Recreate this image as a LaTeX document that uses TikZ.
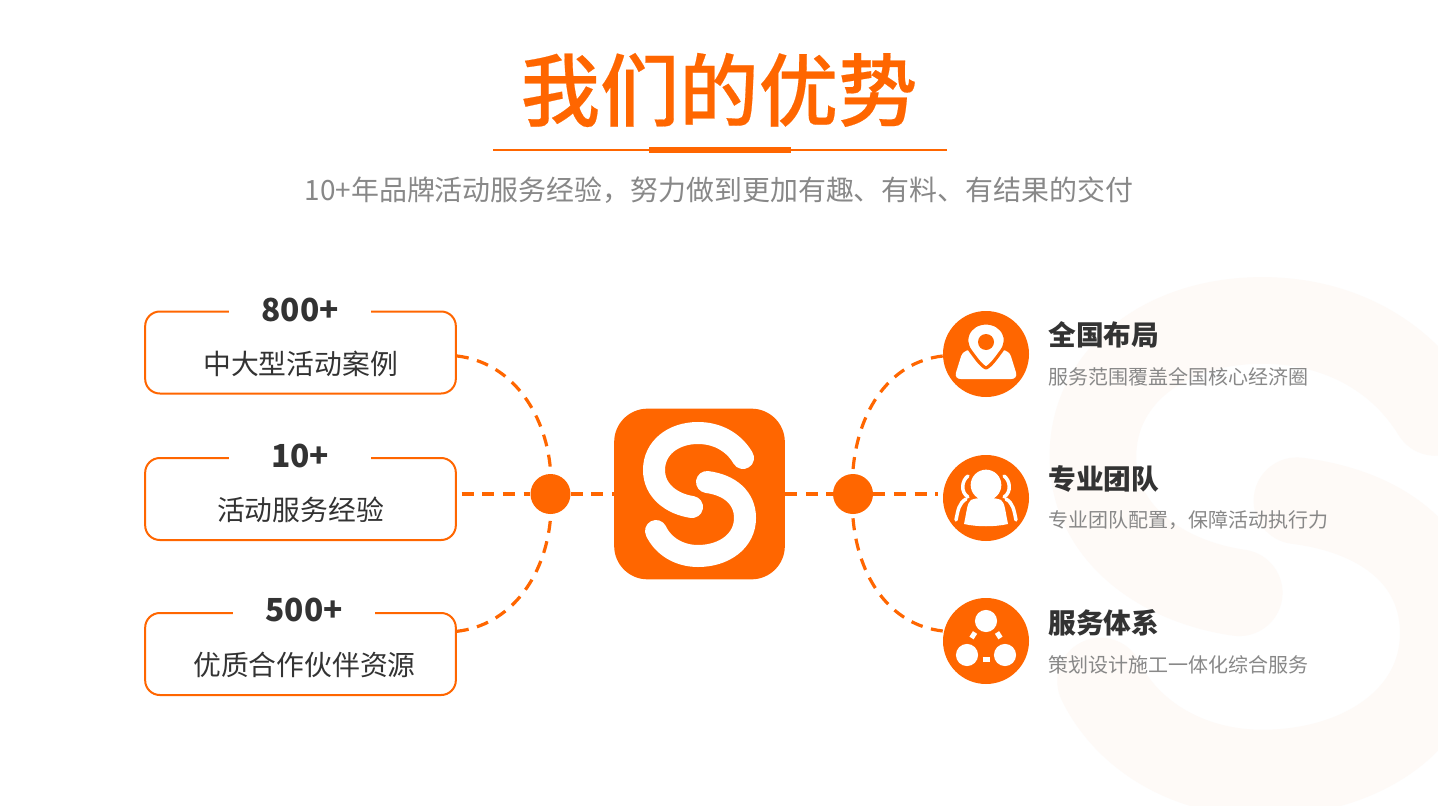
\documentclass[tikz,border=0pt]{standalone}
\usepackage{fontspec}
\setmainfont{Noto Sans CJK SC}
\newfontfamily\titlefont[FakeBold=0.25]{Noto Sans CJK SC Medium}
\definecolor{brand}{HTML}{FF6600}
\definecolor{ink}{HTML}{333333}
\definecolor{mute}{HTML}{888888}
\definecolor{ghost}{HTML}{FEFAF7}
\newcommand{\fsz}[1]{\fontsize{#1}{#1}\selectfont}
\newcommand{\logoS}{
  \draw (743,458) .. controls (733,441) and (716,433) .. (698,433) .. controls (673,433) and (654,448) .. (654,470) .. controls (654,491) and (672,504) .. (692,507);
  \draw (707,482) .. controls (730,485) and (745,498) .. (745,518) .. controls (745,541) and (724,556) .. (698,556) .. controls (679,556) and (663,546) .. (656,531);
}
\tikzset{
  x=0.75pt,y=-0.75pt,
  box/.style={draw=brand,line width=1.5pt,rounded corners=11pt,fill=white,minimum width=233pt,minimum height=61.5pt,inner sep=0pt},
  boxnum/.style={fill=white,minimum width=106.5pt,minimum height=20pt,inner sep=0pt,text=ink,font=\fsz{23.8}\bfseries},
  boxtext/.style={text=ink,inner sep=0pt,font=\fsz{20.85}},
  hub/.style={circle,fill=brand,minimum size=30pt,inner sep=0pt},
  badge/.style={circle,fill=brand,minimum size=64.5pt,inner sep=0pt},
  logo/.style={fill=brand,rounded corners=25pt,minimum size=128pt,inner sep=0pt},
  link/.style={draw=brand,line width=2.4pt,dash pattern=on 9pt off 6.5pt},
  head/.style={anchor=west,text=ink,inner sep=0pt,font=\fsz{20.8}\bfseries},
  sub/.style={anchor=west,text=mute,inner sep=0pt,font=\fsz{15}},
  icon/.style={fill=white,draw=none},
  iconline/.style={draw=white,line cap=round,line join=round,fill=none},
}
\begin{document}
\begin{tikzpicture}
\useasboundingbox (0,0) rectangle (1438,806);
\fill[white] (0,0) rectangle (1438,806);
% background S
\begin{scope}
\clip (0,0) rectangle (1438,806);
\begin{scope}[shift={(-1425,-1273)},xscale=3.85,yscale=3.68,draw=ghost,line width=65pt,line cap=round]
\logoS
\end{scope}
\end{scope}
% title
\node[text=brand,inner sep=0pt,font=\fsz{59.5}\titlefont] (title) at (719,90) {我们的优势};
\fill[brand] (493,149) rectangle (947,151);
\fill[brand] (649,147) rectangle (791,153);
\node[text=mute,inner sep=0pt,font=\fsz{20.95}] (subtitle) at (719,190) {10+年品牌活动服务经验，努力做到更加有趣、有料、有结果的交付};
% boxes
\node[box] (box1) at (300.5,352.5) {};
\node[box] (box2) at (300.5,499) {};
\node[box] (box3) at (300.5,654) {};
\node[boxnum] (num1) at (300,310) {800+};
\node[boxnum] (num2) at (300,456) {10+};
\node[boxnum] (num3) at (304,610) {500+};
\node[boxtext] (txt1) at (300.5,363.5) {中大型活动案例};
\node[boxtext] (txt2) at (300.5,509.5) {活动服务经验};
\node[boxtext] (txt3) at (304.5,664.5) {优质合作伙伴资源};
% hubs and logo
\node[hub] (hubL) at (550.5,494) {};
\node[hub] (hubR) at (853,494) {};
\node[logo] (mark) at (699.5,494) {};
\begin{scope}[draw=white,line width=16.5pt,line cap=round]
\logoS
\end{scope}
% badges
\node[badge] (c1) at (986,354) {};
\node[badge] (c2) at (986,498) {};
\node[badge] (c3) at (986,641) {};
% connectors
\draw[link] ([yshift=-2.6pt]box1.east) .. controls +(53,6) and +(-5,-59) .. ([yshift=3pt]hubL.north);
\draw[link] ([yshift=17pt]box3.east) .. controls +(53,-6) and +(-5,59) .. ([yshift=-3pt]hubL.south);
\draw[link,shorten <=3.5pt] (hubL.west -| box2.east) -- (hubL.west);
\draw[link] (hubL.east) -- (mark.west);
\draw[link] (mark.east) -- (hubR.west);
\draw[link] ([yshift=-1.5pt]c1.west) .. controls +(-53,6) and +(5,-59) .. ([yshift=3pt]hubR.north);
\draw[link] ([yshift=7.5pt]c3.west) .. controls +(-53,-6) and +(5,59) .. ([yshift=-3pt]hubR.south);
\draw[link,shorten >=3.5pt] (hubR.east) -- (hubR.east -| c2.west);
% pin icon
\fill[icon,rounded corners=5pt] (963,350) -- (954,379) -- (1018,379) -- (1009,350) -- cycle;
\path[fill=white,draw=brand,line width=2.4pt,line join=round]
  (970.5,351) .. controls (966,345) and (966,338) .. (968,334) .. controls (971,327) and (978,323) .. (986,323) .. controls (994,323) and (1001,327) .. (1004,334) .. controls (1006,338) and (1006,345) .. (1001.5,351) .. controls (997,357) and (991,366) .. (986,368) .. controls (981,366) and (975,357) .. (970.5,351) -- cycle;
\fill[brand] (986,342) circle (6pt);
% team icon
\fill[icon] (986,485) circle (11.5pt);
\fill[icon] (971,500) .. controls (977,497) and (995,497) .. (1001,500) .. controls (1005,503) and (1005,510) .. (1008,524) .. controls (995,527) and (977,527) .. (964,524) .. controls (967,510) and (967,503) .. (971,500) -- cycle;
\begin{scope}[iconline,line width=2.6pt]
\draw (968,476) .. controls (962,480) and (960,492) .. (968,497);
\draw (1004,476) .. controls (1010,480) and (1012,492) .. (1004,497);
\draw (966,499) .. controls (959,503) and (958,510) .. (956,520);
\draw (1006,499) .. controls (1013,503) and (1014,510) .. (1016,520);
\end{scope}
% network icon
\fill[icon] (986,621) circle (8.3pt);
\fill[icon] (967,655) circle (8.3pt);
\fill[icon] (1005,655) circle (8.3pt);
\begin{scope}[draw=white,line width=3.7pt]
\draw (971.5,638) -- (975,632.5);
\draw (1000.5,638) -- (997,632.5);
\draw (982.5,659.5) -- (989.5,659.5);
\end{scope}
% right texts
\node[head] (h1) at (1048,335) {全国布局};
\node[sub] (s1) at (1048,376.5) {服务范围覆盖全国核心经济圈};
\node[head] (h2) at (1048,479) {专业团队};
\node[sub] (s2) at (1048,520.5) {专业团队配置，保障活动执行力};
\node[head] (h3) at (1048,622.5) {服务体系};
\node[sub] (s3) at (1048,664.5) {策划设计施工一体化综合服务};
\end{tikzpicture}
\end{document}
